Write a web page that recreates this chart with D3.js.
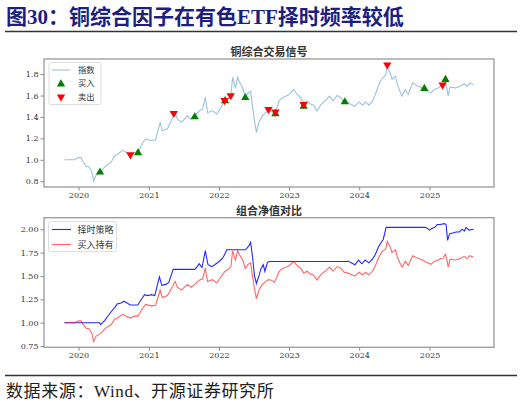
<!DOCTYPE html>
<meta charset="utf-8">
<style>
body {
  margin: 0;
  background: #fff;
}

.axis text {
  font-family: 'DejaVu Serif', serif;
  font-size: 8px;
  fill: #333;
}

.axis path {
  display: none;
}

.axis line {
  stroke: #888;
}

.sub-title {
  font-family: 'Noto Sans CJK SC', sans-serif;
  font-size: 11px;
  font-weight: bold;
  fill: #333;
}

.legend text {
  font-family: 'Noto Sans CJK SC', sans-serif;
  fill: #333;
}
</style>
<div id="chart"></div>

<script src="https://d3js.org/d3.v7.min.js"></script>
<script>
// index (buy & hold)
var indexDates = [
  '2019-10-20', '2019-11-15', '2019-12-10', '2020-01-01', '2020-01-15', '2020-01-22',
  '2020-02-10', '2020-02-25', '2020-03-10', '2020-03-20', '2020-04-01', '2020-04-22',
  '2020-05-20', '2020-06-20', '2020-07-08', '2020-07-22', '2020-08-18', '2020-09-05',
  '2020-09-25', '2020-10-20', '2020-11-06', '2020-11-28', '2020-12-15', '2021-01-10',
  '2021-02-05', '2021-03-01', '2021-03-12', '2021-04-08', '2021-05-02', '2021-05-18',
  '2021-05-30', '2021-06-20', '2021-07-22', '2021-08-08', '2021-08-28', '2021-09-20',
  '2021-10-08', '2021-10-22', '2021-11-03', '2021-11-28', '2021-12-20', '2022-01-10',
  '2022-02-02', '2022-02-25', '2022-03-05', '2022-03-13', '2022-03-28', '2022-04-08',
  '2022-04-20', '2022-05-05', '2022-05-18', '2022-06-02', '2022-06-15', '2022-06-23',
  '2022-07-05', '2022-07-15', '2022-07-28', '2022-08-15', '2022-09-01', '2022-09-15',
  '2022-10-01', '2022-10-15', '2022-10-30', '2022-11-10', '2022-11-28', '2022-12-15',
  '2023-01-01', '2023-01-25', '2023-02-12', '2023-03-03', '2023-03-18', '2023-04-05',
  '2023-04-22', '2023-05-08', '2023-05-25', '2023-06-18', '2023-07-08', '2023-07-30',
  '2023-08-18', '2023-09-08', '2023-09-28', '2023-10-15', '2023-11-05', '2023-12-08',
  '2024-01-01', '2024-01-18', '2024-02-03', '2024-02-20', '2024-03-10', '2024-03-25',
  '2024-04-12', '2024-04-30', '2024-05-18', '2024-05-26', '2024-06-10', '2024-06-20',
  '2024-07-08', '2024-07-18', '2024-08-03', '2024-08-10', '2024-08-28', '2024-09-12',
  '2024-10-05', '2024-10-20', '2024-11-05', '2024-11-25', '2024-12-12', '2025-01-08',
  '2025-01-26', '2025-02-15', '2025-02-28', '2025-03-12', '2025-03-25', '2025-04-03',
  '2025-04-08', '2025-04-18', '2025-05-15', '2025-06-10', '2025-07-01', '2025-07-15',
  '2025-07-30', '2025-08-18'
]
var indexValues = [
  1.00, 1.00, 1.00, 1.02, 1.02, 0.99,
  0.94, 0.935, 0.89, 0.80, 0.855, 0.88,
  0.94, 0.98, 1.04, 1.05, 1.09, 1.07,
  1.05, 1.07, 1.07, 1.15, 1.195, 1.18,
  1.185, 1.35, 1.27, 1.29, 1.38, 1.44,
  1.38, 1.35, 1.41, 1.38, 1.41, 1.455,
  1.47, 1.585, 1.44, 1.46, 1.425, 1.486,
  1.55, 1.58, 1.61, 1.77, 1.67, 1.77,
  1.72, 1.67, 1.58, 1.625, 1.64, 1.52,
  1.363, 1.255, 1.35, 1.41, 1.44, 1.46,
  1.455, 1.43, 1.486, 1.55, 1.58, 1.594,
  1.61, 1.656, 1.61, 1.58, 1.53, 1.55,
  1.52, 1.51, 1.455, 1.52, 1.55, 1.594,
  1.55, 1.60, 1.58, 1.54, 1.53, 1.50,
  1.54, 1.51, 1.54, 1.51, 1.55, 1.61,
  1.70, 1.763, 1.79, 1.87, 1.81, 1.75,
  1.78, 1.70, 1.625, 1.594, 1.656, 1.61,
  1.717, 1.70, 1.686, 1.67, 1.65, 1.625,
  1.656, 1.67, 1.686, 1.69, 1.733, 1.656,
  1.594, 1.68, 1.67, 1.686, 1.71, 1.686,
  1.717, 1.70
]

// timing strategy NAV
var strategyDates = [
  '2019-10-20', '2020-04-20', '2020-04-25', '2020-05-15', '2020-06-05', '2020-06-20',
  '2020-07-10', '2020-07-20', '2020-08-10', '2020-08-25', '2020-09-10', '2020-09-26',
  '2020-11-05', '2020-11-20', '2020-12-10', '2020-12-25', '2021-01-15', '2021-02-01',
  '2021-02-25', '2021-03-10', '2021-04-01', '2021-04-15', '2021-05-08', '2021-08-28',
  '2021-09-10', '2021-09-20', '2021-10-05', '2021-10-22', '2021-11-05', '2021-11-25',
  '2021-12-10', '2022-01-05', '2022-01-20', '2022-02-05', '2022-02-10', '2022-05-18',
  '2022-05-28', '2022-06-08', '2022-06-15', '2022-06-25', '2022-07-05', '2022-07-15',
  '2022-07-28', '2022-08-08', '2022-08-20', '2022-08-28', '2022-09-10', '2022-09-18',
  '2023-10-30', '2023-11-05', '2023-11-20', '2023-12-10', '2023-12-28', '2024-01-15',
  '2024-02-01', '2024-02-20', '2024-03-10', '2024-03-25', '2024-04-10', '2024-04-25',
  '2024-05-05', '2024-05-20', '2024-12-10', '2024-12-20', '2025-01-01', '2025-01-15',
  '2025-01-28', '2025-02-10', '2025-02-25', '2025-03-20', '2025-03-28', '2025-04-05',
  '2025-04-15', '2025-05-01', '2025-05-20', '2025-06-05', '2025-06-20', '2025-07-01',
  '2025-07-10', '2025-07-25', '2025-08-18'
]
var strategyValues = [
  1.00, 1.00, 0.98, 1.02, 1.08, 1.12,
  1.17, 1.20, 1.21, 1.23, 1.21, 1.19,
  1.19, 1.24, 1.30, 1.29, 1.30, 1.29,
  1.49, 1.40, 1.41, 1.43, 1.57, 1.57,
  1.60, 1.63, 1.59, 1.77, 1.62, 1.60,
  1.62, 1.66, 1.69, 1.75, 1.78, 1.78,
  1.80, 1.83, 1.86, 1.70, 1.50, 1.42,
  1.50, 1.58, 1.62, 1.55, 1.64, 1.655,
  1.655, 1.66, 1.64, 1.62, 1.67, 1.63,
  1.67, 1.64, 1.68, 1.73, 1.81, 1.86,
  1.89, 2.02, 2.02, 2.01, 1.99, 2.01,
  2.02, 2.05, 2.05, 2.06, 2.05, 1.88,
  1.95, 1.96, 1.97, 1.97, 2.00, 1.98,
  2.02, 1.99, 2.00
]

var buyDates = ['2020-04-22', '2020-11-06', '2021-08-28', '2022-02-02', '2022-05-18',
  '2022-10-22', '2023-03-18', '2023-10-18', '2024-12-05', '2025-03-25']
var buyValues = [0.884, 1.065, 1.40, 1.55, 1.58, 1.43, 1.50, 1.54, 1.665, 1.75]

var sellDates = ['2020-09-27', '2021-05-11', '2022-01-30', '2022-03-03', '2022-09-16',
  '2022-10-22', '2023-03-18', '2024-05-26', '2025-03-10']
var sellValues = [1.047, 1.434, 1.555, 1.60, 1.47, 1.446, 1.517, 1.887, 1.70]

var topTicks = [0.8, 1.0, 1.2, 1.4, 1.6, 1.8]
var bottomTicks = [0.75, 1.00, 1.25, 1.50, 1.75, 2.00]
var yearTicks = ['2020', '2021', '2022', '2023', '2024', '2025']

var parse = d3.timeParse('%Y-%m-%d')
var zip = (dates, values) => dates.map((d, i) => ({ date: parse(d), value: values[i] }))

var indexData = zip(indexDates, indexValues)
var strategyData = zip(strategyDates, strategyValues)
var buyData = zip(buyDates, buyValues)
var sellData = zip(sellDates, sellValues)

var width = 522
var height = 405

var svg = d3.select('#chart')
  .append('svg')
  .attr('width', width)
  .attr('height', height)

// heading
svg.append('text')
  .text('图30：铜综合因子在有色ETF择时频率较低')
  .attr('x', 6)
  .attr('y', 23.5)
  .attr('font-family', "'Liberation Serif', 'Noto Sans CJK SC', serif")
  .attr('font-weight', 'bold')
  .attr('font-size', 21)
  .attr('fill', '#1c1f80')

svg.append('line')
  .attr('x1', 5).attr('x2', 517)
  .attr('y1', 31.5).attr('y2', 31.5)
  .attr('stroke', '#333')
  .attr('stroke-width', 1.3)

svg.append('line')
  .attr('x1', 5).attr('x2', 517)
  .attr('y1', 375.5).attr('y2', 375.5)
  .attr('stroke', '#333')
  .attr('stroke-width', 1.3)

svg.append('text')
  .text('数据来源：Wind、开源证券研究所')
  .attr('x', 6)
  .attr('y', 397)
  .attr('font-family', "'Liberation Serif', 'Noto Sans CJK SC', serif")
  .attr('font-size', 17)
  .attr('letter-spacing', 0.6)
  .attr('fill', '#222')

function padded(lo, hi) {
  var pad = (hi - lo) * 0.05
  return [lo - pad, hi + pad]
}

var xExtent = d3.extent(indexData, d => d.date)
var xPad = (xExtent[1] - xExtent[0]) * 0.05
var xPositionScale = d3.scaleTime()
  .domain([new Date(+xExtent[0] - xPad), new Date(+xExtent[1] + xPad)])
  .range([44, 494])

var yearDates = yearTicks.map(y => d3.timeParse('%Y')(y))

function drawFrame(g, yScale, ticks, fmt, top, bottom, title) {
  g.append('g')
    .attr('class', 'axis x-axis')
    .attr('transform', 'translate(0,' + bottom + ')')
    .call(d3.axisBottom(xPositionScale).tickValues(yearDates).tickFormat(d3.timeFormat('%Y')).tickSize(3.5).tickPadding(2))

  g.append('g')
    .attr('class', 'axis y-axis')
    .attr('transform', 'translate(44,0)')
    .call(d3.axisLeft(yScale).tickValues(ticks).tickFormat(d3.format(fmt)).tickSize(3.5).tickPadding(2))

  g.append('rect')
    .attr('x', 44)
    .attr('y', top)
    .attr('width', 450)
    .attr('height', bottom - top)
    .attr('fill', 'none')
    .attr('stroke', '#999')
    .attr('stroke-width', 1.3)

  g.append('text')
    .attr('class', 'sub-title')
    .text(title)
    .attr('x', 269)
    .attr('y', top - 3)
    .attr('text-anchor', 'middle')
}

// ---- top panel: signals
var top1 = 59
var bottom1 = 187
var yTop = d3.scaleLinear()
  .domain(padded(d3.min(indexValues), d3.max(sellValues)))
  .range([bottom1, top1])

var indexLine = d3.line()
  .x(d => xPositionScale(d.date))
  .y(d => yTop(d.value))

var g1 = svg.append('g')

g1.append('path')
  .datum(indexData)
  .attr('d', indexLine)
  .attr('fill', 'none')
  .attr('stroke', '#1f77b4')
  .attr('stroke-opacity', 0.45)
  .attr('stroke-width', 1.1)

var tri = d3.symbol().type(d3.symbolTriangle).size(30)

g1.selectAll('.buy')
  .data(buyData)
  .enter().append('path')
  .attr('class', 'buy')
  .attr('d', tri)
  .attr('transform', d => 'translate(' + xPositionScale(d.date) + ',' + yTop(d.value) + ')')
  .attr('fill', '#008000')

g1.selectAll('.sell')
  .data(sellData)
  .enter().append('path')
  .attr('class', 'sell')
  .attr('d', tri)
  .attr('transform', d => 'translate(' + xPositionScale(d.date) + ',' + yTop(d.value) + ') rotate(180)')
  .attr('fill', '#ff0000')

drawFrame(g1, yTop, topTicks, '.1f', top1, bottom1, '铜综合交易信号')

var legend1 = g1.append('g').attr('class', 'legend')
legend1.append('rect')
  .attr('x', 49).attr('y', 62.5)
  .attr('width', 52).attr('height', 42)
  .attr('rx', 2)
  .attr('fill', '#fff')
  .attr('fill-opacity', 0.8)
  .attr('stroke', '#ddd')

legend1.append('line')
  .attr('x1', 52).attr('x2', 70)
  .attr('y1', 70).attr('y2', 70)
  .attr('stroke', '#1f77b4')
  .attr('stroke-opacity', 0.45)
  .attr('stroke-width', 1.1)
legend1.append('path')
  .attr('d', tri)
  .attr('transform', 'translate(61,84)')
  .attr('fill', '#008000')
legend1.append('path')
  .attr('d', tri)
  .attr('transform', 'translate(61,97) rotate(180)')
  .attr('fill', '#ff0000')

var legendText1 = ['指数', '买入', '卖出']
legend1.selectAll('.lt')
  .data(legendText1)
  .enter().append('text')
  .attr('class', 'lt')
  .text(d => d)
  .attr('x', 78)
  .attr('y', (d, i) => 73 + i * 13.3)
  .attr('font-size', 8.3)

// ---- bottom panel: NAV comparison
var top2 = 217.7
var bottom2 = 347.3
var yBottom = d3.scaleLinear()
  .domain(padded(d3.min(indexValues), d3.max(strategyValues)))
  .range([bottom2, top2])

var navLine = d3.line()
  .x(d => xPositionScale(d.date))
  .y(d => yBottom(d.value))

var g2 = svg.append('g')

g2.append('path')
  .datum(strategyData)
  .attr('d', navLine)
  .attr('fill', 'none')
  .attr('stroke', '#0000ff')
  .attr('stroke-opacity', 0.85)
  .attr('stroke-width', 1.1)

g2.append('path')
  .datum(indexData)
  .attr('d', navLine)
  .attr('fill', 'none')
  .attr('stroke', '#ff0000')
  .attr('stroke-opacity', 0.6)
  .attr('stroke-width', 1.1)

drawFrame(g2, yBottom, bottomTicks, '.2f', top2, bottom2, '组合净值对比')

var legend2 = g2.append('g').attr('class', 'legend')
legend2.append('rect')
  .attr('x', 48.5).attr('y', 221.5)
  .attr('width', 68).attr('height', 30)
  .attr('rx', 2)
  .attr('fill', '#fff')
  .attr('fill-opacity', 0.8)
  .attr('stroke', '#ddd')

var legendColors2 = ['#0000ff', '#ff0000']
var legendOpacity2 = [0.85, 0.6]
var legendText2 = ['择时策略', '买入持有']

legend2.selectAll('.ll')
  .data(legendText2)
  .enter().append('line')
  .attr('class', 'll')
  .attr('x1', 52).attr('x2', 71)
  .attr('y1', (d, i) => 229.5 + i * 15)
  .attr('y2', (d, i) => 229.5 + i * 15)
  .attr('stroke', (d, i) => legendColors2[i])
  .attr('stroke-opacity', (d, i) => legendOpacity2[i])
  .attr('stroke-width', 1.1)

legend2.selectAll('.lt')
  .data(legendText2)
  .enter().append('text')
  .attr('class', 'lt')
  .text(d => d)
  .attr('x', 77.5)
  .attr('y', (d, i) => 232.8 + i * 15)
  .attr('font-size', 9)
</script>
